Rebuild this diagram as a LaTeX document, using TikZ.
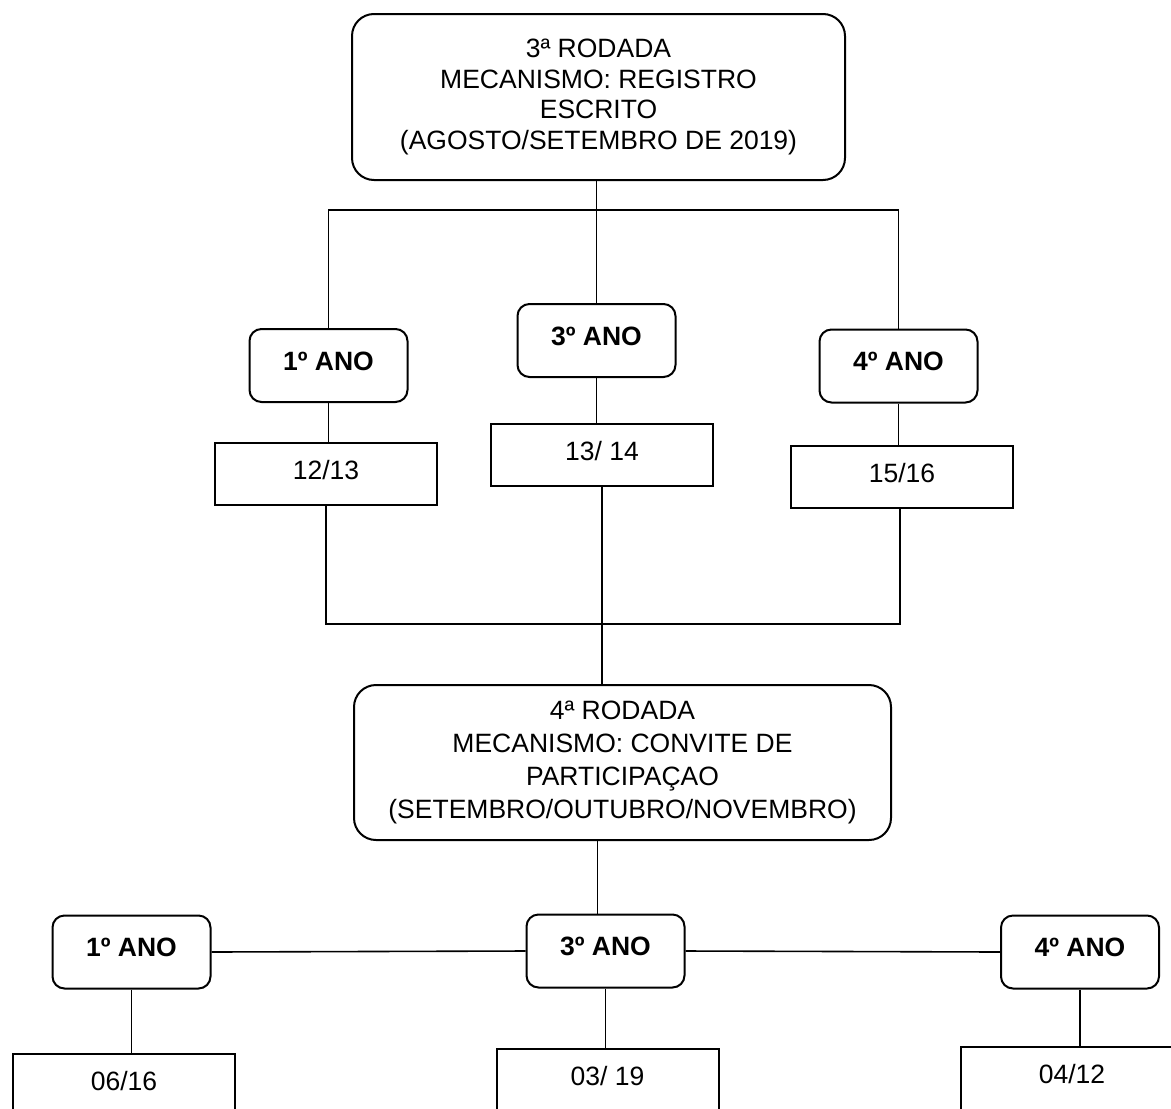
\documentclass[tikz,border=0pt]{standalone}
\usepackage{fontspec}
\setmainfont{Liberation Sans}
\usepackage{tikz}

\newcommand{\boxfont}{\fontsize{13.25pt}{15.4pt}\selectfont}
\newcommand{\widefont}{\fontsize{13.25pt}{16.6pt}\selectfont}

\tikzset{
  every node/.style={font=\boxfont},
  roundbox/.style={draw, line width=1pt, rounded corners=6pt, font=\boxfont\bfseries,
    minimum width=79pt, minimum height=36.5pt, inner sep=0pt,
    text height=9.5pt, text depth=5pt},
  datebox/.style={draw, line width=1pt, minimum width=111pt, minimum height=31pt,
    inner sep=0pt, text height=9.5pt, text depth=4pt},
  cutbox/.style={datebox, anchor=north, minimum height=40pt, text depth=13pt},
  bigbox/.style={draw, line width=1pt, rounded corners=11pt, align=center, inner sep=0pt},
  link/.style={line width=0.8pt}
}

\begin{document}
\begin{tikzpicture}[x=0.5pt,y=-0.5pt]
  \useasboundingbox (0,0) rectangle (1171,1108);

  % 3a rodada
  \node[bigbox, minimum width=246.5pt, minimum height=83pt] (r3) at (598.5,97)
    {3ª RODADA\\MECANISMO: REGISTRO\\ESCRITO\\(AGOSTO/SETEMBRO DE 2019)};

  \node[roundbox] (a1) at (328.5,365.5) {1º ANO};
  \node[roundbox] (a3) at (596.5,340.5) {3º ANO};
  \node[roundbox] (a4) at (898.5,366) {4º ANO};

  \node[datebox] (d1) at (326,474) {12/13};
  \node[datebox] (d3) at (602,454.5) {13/ 14};
  \node[datebox] (d4) at (902,476.5) {15/16};

  \coordinate (tl) at (327,210);
  \coordinate (tr) at (899,210);
  \coordinate (bl) at (326,624);
  \coordinate (br) at (900,624);

  \draw[link] (a3.north) -- (a3.north |- r3.south);
  \draw[link] (a1.north) -- (a1.north |- tl) -- (tr -| a4.north) -- (a4.north);
  \draw[link] (a1.south) -- (a1.south |- d1.north);
  \draw[link] (a3.south) -- (a3.south |- d3.north);
  \draw[link] (a4.south) -- (a4.south |- d4.north);
  \draw[link] (d1.south) -- (d1.south |- bl) -- (br) -- (br |- d4.south);

  % 4a rodada
  \node[bigbox, font=\widefont, minimum width=268.5pt, minimum height=77.5pt] (r4) at (622.5,762.5)
    {4ª RODADA\\MECANISMO: CONVITE DE\\PARTICIPAÇAO\\(SETEMBRO/OUTUBRO/NOVEMBRO)};

  \draw[link] (d3.south) -- (d3.south |- r4.north);

  \node[roundbox] (b1) at (131.5,952) {1º ANO};
  \node[roundbox] (b3) at (605.5,951) {3º ANO};
  \node[roundbox] (b4) at (1080,952) {4º ANO};

  \node[cutbox] (e1) at (124,1053) {06/16};
  \node[cutbox] (e3) at (607.5,1048) {03/ 19};
  \node[cutbox] (e4) at (1072,1046) {04/12};

  \draw[link] ([xshift=-4pt]b3.north) -- ([xshift=-4pt]b3.north |- r4.south);
  \draw[link] (b1.east) -- (b3.west);
  \draw[link] (b3.east) -- (b4.west);
  \draw[link] (b1.south) -- (b1.south |- e1.north);
  \draw[link] (b3.south) -- (b3.south |- e3.north);
  \draw[link] (b4.south) -- (b4.south |- e4.north);
\end{tikzpicture}
\end{document}
